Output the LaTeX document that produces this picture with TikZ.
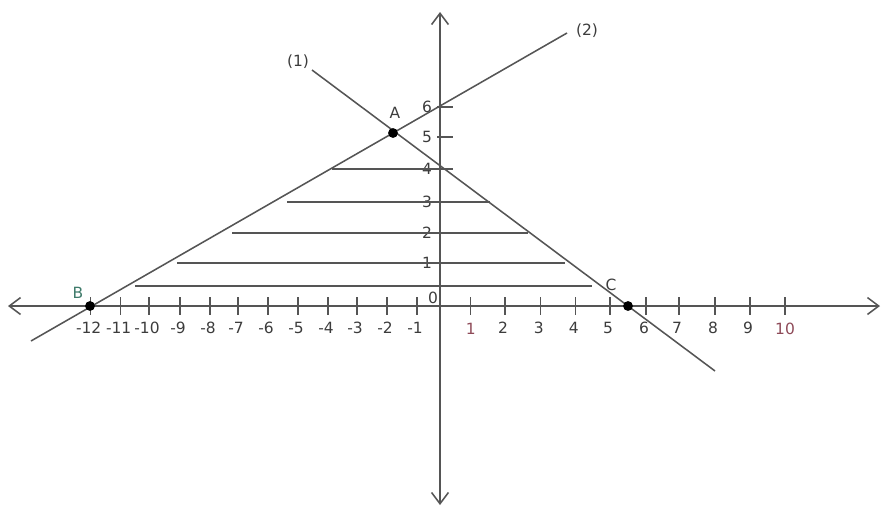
\documentclass[tikz,border=0pt]{standalone}
\usepackage{fontspec}
\setmainfont{DejaVu Sans}
\usetikzlibrary{arrows.meta}
\definecolor{ink}   {HTML}{3C3C3C}
\definecolor{ink60} {HTML}{555555}
\definecolor{rose}  {HTML}{8E4A58}
\definecolor{teal}  {HTML}{3E7A6A}

\begin{document}
\begin{tikzpicture}[
  x=0.025cm, y=-0.025cm,
  font=\fontsize{11}{13}\selectfont,
  lbl/.style={text=ink, inner sep=1pt},
  axis/.style={draw=ink60, line width=1.1pt,
               {Straight Barb[length=8pt,width=12pt]}-{Straight Barb[length=8pt,width=12pt]}},
  graph/.style={draw=ink60, line width=1.1pt},
  hatch/.style={draw=ink60, line width=1.1pt},
  tick/.style={draw=ink60, line width=0.9pt},
  pt/.style={circle, fill=black, inner sep=0pt, minimum size=7pt}
]
\useasboundingbox (0,0) rectangle (883,508);

% axes
\draw[axis] (8,306) -- (880,306);
\draw[axis] (440,12) -- (440,505);
\node[lbl] (o) at (433,298) {0};

% ticks on the x axis
\foreach \x/\l in {90.7/-12, 120.7/-11, 149/-10, 180/-9, 210/-8, 238/-7,
                   268/-6, 298/-5, 328/-4, 357/-3, 387/-2, 417/-1,
                   505/2, 540.7/3, 575.7/4, 610/5, 646/6, 679/7, 715/8, 750/9} {
  \draw[tick] (\x,297) -- (\x,315);
  \node[lbl] (x\l) at (\x-2,328) {\l};
}
\foreach \x/\l in {470.7/1, 785/10} {
  \draw[tick] (\x,297) -- (\x,315);
  \node[lbl, text=rose] (x\l) at (\x,329) {\l};
}
\draw[draw=ink60, line width=2pt] (600,306) -- (614,306);

% ticks on the y axis
\foreach \y/\l in {107/6, 137/5, 169/4, 202/3, 233/2, 263/1} {
  \draw[tick] (437,\y) -- (453,\y);
  \node[lbl] (y\l) at (427,\y) {\l};
}

% shading of the region
\foreach \y/\a/\b in {169/332/450, 202/287/490, 233/232/528, 263/177/565, 286/135/592}
  \draw[hatch] (\a,\y) -- (\b,\y);

% the two lines
\coordinate (p1) at (312,70);
\coordinate (q1) at (715,371);
\coordinate (p2) at (31,341);
\coordinate (q2) at (567,33);
\draw[graph] (p1) -- (q1);
\draw[graph] (p2) -- (q2);
\node[lbl] (n1) at (298,62) {(1)};
\node[lbl] (n2) at (587,31) {(2)};

% corner points
\node[pt] (A) at (393,133) {};
\node[pt] (B) at (90,306) {};
\node[pt] (C) at (628,306) {};
\node[lbl] (Alb) at (395,113) {A};
\node[lbl, text=teal] (Blb) at (78,293) {B};
\node[lbl] (Clb) at (611,285) {C};
\end{tikzpicture}
\end{document}
